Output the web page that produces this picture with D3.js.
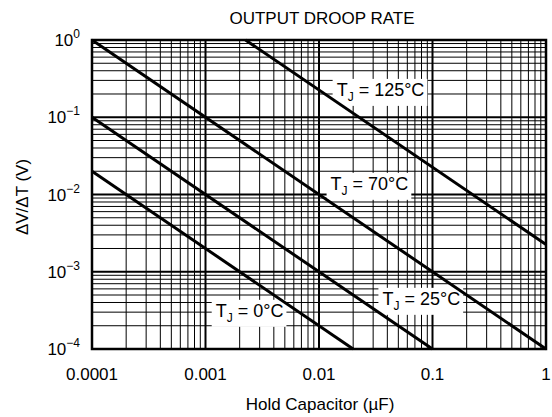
<!DOCTYPE html>
<html><head><meta charset="utf-8">
<script src="https://cdn.jsdelivr.net/npm/d3@7"></script>
<style>
html,body{margin:0;padding:0;background:#fff;}
svg{display:block;font-family:"Liberation Sans",Arial,Helvetica,sans-serif;}
</style></head>
<body><svg id="chart" width="552" height="417"></svg>
<script>
// ---- data ----
const xTickValues = [0.0001, 0.001, 0.01, 0.1, 1];
const xTickLabels = ["0.0001", "0.001", "0.01", "0.1", "1"];
const yTickValues = [1, 0.1, 0.01, 0.001, 0.0001];
const yTickExponents = ["0", "\u22121", "\u22122", "\u22123", "\u22124"];

const seriesNames = ["125°C", "70°C", "25°C", "0°C"];
const cap125 = [0.00225, 1];   const droop125 = [1, 0.00225];
const cap70  = [0.0001, 1];    const droop70  = [1, 0.0001];
const cap25  = [0.0001, 0.1];  const droop25  = [0.1, 0.0001];
const cap0   = [0.0001, 0.02]; const droop0   = [0.02, 0.0001];

const labelCap   = [0.0143, 0.01265, 0.0362, 0.00123];
const labelDroop = [0.189, 0.0115, 3.73e-4, 2.61e-4];

const title = "OUTPUT DROOP RATE";
const xTitle = "Hold Capacitor (µF)";
const yTitle = "\u0394V/\u0394T (V)";

// ---- layout ----
const L = 92, R = 546, T = 40, B = 349;
const svg = d3.select("#chart");
const x = d3.scaleLog().domain([1e-4, 1]).range([L, R]);
const y = d3.scaleLog().domain([1e-4, 1]).range([B, T]);

// minor grid
const minors = [];
for (let d = -4; d < 0; d++) for (let k = 2; k <= 9; k++) minors.push(k * Math.pow(10, d));
const g = svg.append("g");
g.selectAll(".vx").data(minors).join("line")
  .attr("x1", d => x(d)).attr("x2", d => x(d)).attr("y1", T).attr("y2", B)
  .attr("stroke", "#000").attr("stroke-width", 1);
g.selectAll(".hy").data(minors).join("line")
  .attr("y1", d => y(d)).attr("y2", d => y(d)).attr("x1", L).attr("x2", R)
  .attr("stroke", "#000").attr("stroke-width", 1);
// major grid
g.selectAll(".mx").data(xTickValues).join("line")
  .attr("x1", d => x(d)).attr("x2", d => x(d)).attr("y1", T).attr("y2", B)
  .attr("stroke", "#000").attr("stroke-width", 2);
g.selectAll(".my").data(yTickValues).join("line")
  .attr("y1", d => y(d)).attr("y2", d => y(d)).attr("x1", L).attr("x2", R)
  .attr("stroke", "#000").attr("stroke-width", 2);

// labels with white boxes
const labG = svg.append("g");
seriesNames.forEach((name, i) => {
  const t = labG.append("text")
    .attr("x", x(labelCap[i])).attr("y", y(labelDroop[i]))
    .attr("font-size", 18).attr("fill", "#000");
  t.append("tspan").text("T");
  t.append("tspan").attr("dy", 5).attr("font-size", 12).text("J");
  t.append("tspan").attr("dy", -5).text(" = " + name);
  const bb = t.node().getBBox();
  labG.insert("rect", "text")
    .attr("x", bb.x - 4).attr("y", bb.y - 1)
    .attr("width", bb.width + 7).attr("height", bb.height + 3)
    .attr("fill", "#fff");
});

// data lines
const line = d3.line().x(d => x(d[0])).y(d => y(d[1]));
const series = [
  d3.zip(cap125, droop125), d3.zip(cap70, droop70),
  d3.zip(cap25, droop25), d3.zip(cap0, droop0)
];
svg.append("g").selectAll("path").data(series).join("path")
  .attr("d", line).attr("fill", "none").attr("stroke", "#000").attr("stroke-width", 3);

// border
svg.append("rect").attr("x", L).attr("y", T).attr("width", R - L).attr("height", B - T)
  .attr("fill", "none").attr("stroke", "#000").attr("stroke-width", 2.5);

// x tick labels
svg.append("g").selectAll("text").data(xTickValues).join("text")
  .attr("x", d => x(d)).attr("y", 380).attr("text-anchor", "middle")
  .attr("font-size", 17).text((d, i) => xTickLabels[i]);

// y tick labels
yTickValues.forEach((v, i) => {
  const t = svg.append("text").attr("x", 80).attr("y", y(v) + 6)
    .attr("text-anchor", "end").attr("font-size", 17);
  t.append("tspan").text("10");
  t.append("tspan").attr("dy", -8).attr("font-size", 12).text(yTickExponents[i]);
});

// titles
svg.append("text").attr("x", 322).attr("y", 24).attr("text-anchor", "middle")
  .attr("font-size", 17).text(title);
svg.append("text").attr("x", 320).attr("y", 410).attr("text-anchor", "middle")
  .attr("font-size", 17).text(xTitle);
svg.append("text").attr("transform", "translate(28,197) rotate(-90)")
  .attr("text-anchor", "middle").attr("font-size", 17).text(yTitle);
</script></body></html>
